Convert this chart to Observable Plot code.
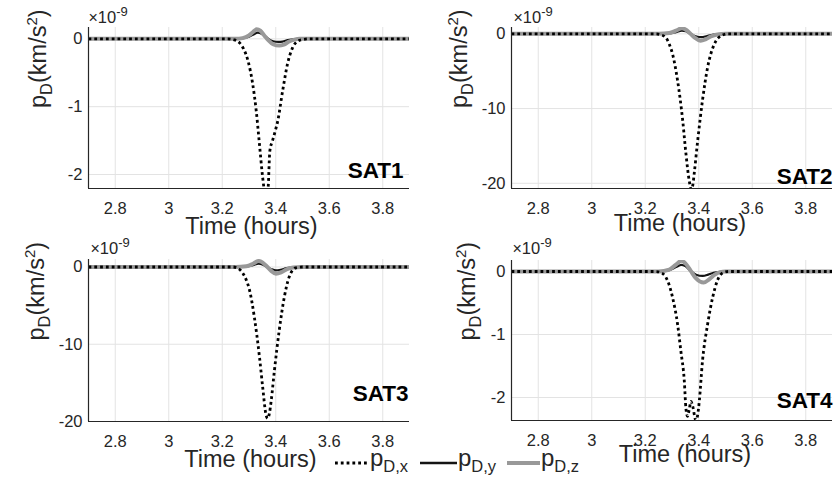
<!DOCTYPE html>
<html><head><meta charset="utf-8">
<script src="https://cdn.jsdelivr.net/npm/d3@7"></script>
<script src="https://cdn.jsdelivr.net/npm/@observablehq/plot@0.6"></script>
<style>
body{margin:0;background:#fff;}
#fig{position:relative;width:837px;height:485px;font-family:"Liberation Sans",Arial,sans-serif;overflow:hidden;background:#fff;}
.panel{position:absolute;}
</style></head><body><div id="fig"></div>
<script>
// ---- data (values in units of 1e-9 km/s^2), [time in hours, value]
const xTicks = [2.8, 3, 3.2, 3.4, 3.6, 3.8];
const xDomain = [2.7, 3.9];
const satNames = ["SAT1", "SAT2", "SAT3", "SAT4"];
const yTicksSmall = [-2, -1, 0];
const yTicksLarge = [-20, -10, 0];
const legendLabels = ["D,x", "D,y", "D,z"];

const sat1X = [[2.7,0],[3.22,0],[3.245,-0.015],[3.265,-0.06],[3.28,-0.15],[3.296,-0.32],[3.314,-0.67],[3.327,-1.06],[3.339,-1.55],[3.351,-2.04],[3.358,-2.25],[3.364,-2.32],[3.371,-2.22],[3.378,-1.65],[3.388,-1.5],[3.398,-1.36],[3.407,-1.22],[3.426,-0.76],[3.444,-0.37],[3.463,-0.13],[3.48,-0.04],[3.5,-0.01],[3.53,0],[3.9,0]];
const sat1Y = [[2.7,0],[3.25,0],[3.28,0.01],[3.30,0.03],[3.315,0.06],[3.333,0.09],[3.345,0.08],[3.36,0.04],[3.375,-0.01],[3.39,-0.035],[3.41,-0.045],[3.425,-0.04],[3.445,-0.02],[3.47,-0.005],[3.5,0],[3.9,0]];
const sat1Z = [[2.7,0],[3.25,0],[3.276,0.01],[3.30,0.05],[3.315,0.1],[3.329,0.14],[3.342,0.12],[3.357,0.05],[3.372,-0.02],[3.39,-0.08],[3.413,-0.1],[3.43,-0.085],[3.45,-0.04],[3.47,-0.012],[3.49,0],[3.9,0]];

const sat2X = [[2.7,0],[3.24,0],[3.26,-0.15],[3.277,-0.5],[3.29,-1.4],[3.302,-2.7],[3.321,-6.3],[3.34,-11.6],[3.352,-16],[3.365,-19.8],[3.372,-20.8],[3.378,-20.2],[3.383,-18.7],[3.396,-14.3],[3.414,-8.9],[3.433,-4.5],[3.458,-1.4],[3.483,-0.27],[3.51,0],[3.9,0]];
const sat2Y = [[2.7,0],[3.25,0],[3.29,0.06],[3.315,0.24],[3.337,0.44],[3.352,0.34],[3.367,0.05],[3.383,-0.25],[3.4,-0.42],[3.41,-0.44],[3.428,-0.33],[3.447,-0.15],[3.47,-0.04],[3.5,0],[3.9,0]];
const sat2Z = [[2.7,0],[3.25,0],[3.29,0.1],[3.315,0.42],[3.337,0.76],[3.352,0.55],[3.368,0.05],[3.385,-0.5],[3.407,-0.93],[3.425,-0.75],[3.445,-0.35],[3.47,-0.08],[3.5,0],[3.9,0]];

const sat3X = [[2.7,0],[3.24,0],[3.26,-0.2],[3.277,-0.8],[3.29,-1.7],[3.302,-3],[3.32,-6.5],[3.339,-11.6],[3.351,-15.5],[3.364,-19.2],[3.37,-19.6],[3.376,-19],[3.383,-17.3],[3.395,-13.4],[3.413,-8.2],[3.432,-3.9],[3.45,-1.3],[3.475,-0.1],[3.5,0],[3.9,0]];
const sat3Y = [[2.7,0],[3.25,0],[3.29,0.06],[3.315,0.24],[3.336,0.43],[3.35,0.33],[3.365,0.05],[3.382,-0.27],[3.4,-0.43],[3.418,-0.36],[3.44,-0.15],[3.465,-0.03],[3.5,0],[3.9,0]];
const sat3Z = [[2.7,0],[3.25,0],[3.29,0.1],[3.315,0.42],[3.336,0.78],[3.35,0.6],[3.366,0.1],[3.383,-0.5],[3.401,-0.87],[3.42,-0.7],[3.44,-0.3],[3.465,-0.06],[3.5,0],[3.9,0]];

const sat4X = [[2.7,0],[3.24,0],[3.26,-0.02],[3.277,-0.09],[3.29,-0.22],[3.302,-0.41],[3.321,-0.84],[3.333,-1.26],[3.346,-1.74],[3.352,-2.17],[3.358,-2.3],[3.364,-2.2],[3.371,-2.06],[3.378,-2.15],[3.389,-2.36],[3.395,-2.3],[3.402,-2.06],[3.414,-1.42],[3.433,-0.84],[3.452,-0.41],[3.47,-0.14],[3.49,-0.02],[3.51,0],[3.9,0]];
const sat4Y = [[2.7,0],[3.25,0],[3.29,0.02],[3.315,0.07],[3.335,0.107],[3.35,0.085],[3.37,0.01],[3.39,-0.05],[3.415,-0.07],[3.435,-0.05],[3.455,-0.02],[3.48,-0.004],[3.5,0],[3.9,0]];
const sat4Z = [[2.7,0],[3.25,0],[3.29,0.03],[3.315,0.11],[3.335,0.17],[3.35,0.13],[3.37,0.01],[3.39,-0.11],[3.418,-0.176],[3.44,-0.12],[3.46,-0.05],[3.48,-0.01],[3.5,0],[3.9,0]];

const yDomains = [[-2.206, 0.167], [-20.7, 0.85], [-20, 0.97], [-2.365, 0.175]];

// ---- layout (styles only)
const GRAY = "#999999", INK = "#262626", GRID = "#e3e3e3";
const FONT = "'Liberation Sans', Arial, sans-serif";
const DASH = "2.8,3";
const panels = [
  {name: satNames[0], x: sat1X, y: sat1Y, z: sat1Z, dom: yDomains[0], ticks: yTicksSmall,
   left: 0, top: 0, w: 418, h: 245, ml: 88, mr: 9, mt: 27, mb: 57,
   satDx: -6, satDy: -18, xlDx: 2.5, xlDy: 37.5, ylDx: -50, expDx: 0, expDy: -9.5},
  {name: satNames[1], x: sat2X, y: sat2Y, z: sat2Z, dom: yDomains[1], ticks: yTicksLarge,
   left: 418, top: 0, w: 419, h: 245, ml: 93, mr: 5, mt: 27, mb: 57,
   satDx: 0, satDy: -12, xlDx: 8, xlDy: 34.5, ylDx: -52.5, expDx: 2, expDy: -9.5},
  {name: satNames[2], x: sat3X, y: sat3Y, z: sat3Z, dom: yDomains[2], ticks: yTicksLarge,
   left: 0, top: 225, w: 418, h: 260, ml: 88, mr: 9, mt: 34, mb: 64,
   satDx: -1, satDy: -28, xlDx: 1.5, xlDy: 38, ylDx: -52.5, expDx: 2, expDy: -11},
  {name: satNames[3], x: sat4X, y: sat4Y, z: sat4Z, dom: yDomains[3], ticks: yTicksSmall,
   left: 418, top: 225, w: 419, h: 260, ml: 93, mr: 5, mt: 35, mb: 65,
   satDx: 0, satDy: -20, xlDx: 13, xlDy: 34, ylDx: -44, expDx: 1, expDy: -12}
];

const Y_LABEL = "p_D(km/s^2)";
const EXP_LABEL = "x10^-9";

function rich(svg, placeholder, parts) {
  d3.select(svg).selectAll("text").filter(function() { return this.textContent === placeholder; })
    .each(function() {
      const t = d3.select(this);
      t.text(null);
      parts.forEach(p => {
        const s = t.append("tspan").text(p.t);
        if (p.size) s.attr("font-size", p.size);
        if (p.dy) s.attr("dy", p.dy);
      });
    });
}

const fig = document.getElementById("fig");
const fx = d => d[0], fy = d => d[1];

panels.forEach(p => {
  const svg = Plot.plot({
    width: p.w, height: p.h,
    marginLeft: p.ml, marginRight: p.mr, marginTop: p.mt, marginBottom: p.mb,
    style: {background: "transparent", fontFamily: FONT, fontSize: "16.5px", color: INK, overflow: "visible"},
    x: {domain: xDomain, ticks: xTicks, tickFormat: d => String(d), tickSize: 0, tickPadding: 14, label: null},
    y: {domain: p.dom, ticks: p.ticks, tickFormat: d => String(d), tickSize: 0, tickPadding: 6, label: null},
    marks: [
      Plot.ruleX(xTicks, {stroke: GRID, strokeWidth: 1}),
      Plot.ruleY(p.ticks, {stroke: GRID, strokeWidth: 1}),
      Plot.line(p.y, {x: fx, y: fy, stroke: "#141414", strokeWidth: 2.2, curve: "monotone-x", clip: true}),
      Plot.line(p.z, {x: fx, y: fy, stroke: GRAY, strokeWidth: 4, curve: "monotone-x", clip: true}),
      Plot.line(p.x, {x: fx, y: fy, stroke: "#000", strokeWidth: 2.8, strokeDasharray: DASH, strokeLinecap: "butt", curve: "monotone-x", clip: true}),
      Plot.ruleX([xDomain[0]], {stroke: INK, strokeWidth: 1.2}),
      Plot.ruleY([p.dom[0]], {stroke: INK, strokeWidth: 1.2}),
      Plot.text([p.name], {text: d => d, frameAnchor: "bottom-right", textAnchor: "end", lineAnchor: "middle", dx: p.satDx, dy: p.satDy,
        fontSize: 22.5, fontWeight: "bold", fill: "#000"}),
      Plot.text(["Time (hours)"], {text: d => d, frameAnchor: "bottom", lineAnchor: "middle", dx: p.xlDx, dy: p.xlDy, fontSize: 23.5, fill: INK}),
      Plot.text([Y_LABEL], {text: d => d, frameAnchor: "left", lineAnchor: "middle", rotate: -90, dx: p.ylDx, fontSize: 23.5, fill: INK}),
      Plot.text([EXP_LABEL], {text: d => d, frameAnchor: "top-left", textAnchor: "start", lineAnchor: "middle", dx: p.expDx, dy: p.expDy, fontSize: 16.5, fill: INK})
    ]
  });
  rich(svg, Y_LABEL, [{t: "p"}, {t: "D", size: 16.5, dy: 6}, {t: "(km/s", dy: -6}, {t: "2", size: 15, dy: -9}, {t: ")", dy: 9}]);
  rich(svg, EXP_LABEL, [{t: "\u00d7", size: 16}, {t: "10"}, {t: "-9", size: 13, dy: -7}]);
  const div = document.createElement("div");
  div.className = "panel";
  div.style.left = p.left + "px";
  div.style.top = p.top + "px";
  div.appendChild(svg);
  fig.appendChild(div);
});

// ---- legend
const leg = d3.select(fig).append("svg")
  .attr("width", 280).attr("height", 40)
  .style("position", "absolute").style("left", "330px").style("top", "445px")
  .style("font-family", FONT).style("overflow", "visible");
const legItems = [
  {x0: 5, x1: 38, tx: 40, stroke: "#000", w: 2.8, dash: DASH},
  {x0: 90, x1: 127, tx: 128, stroke: "#141414", w: 2.6, dash: null},
  {x0: 177, x1: 210, tx: 211, stroke: GRAY, w: 4, dash: null}
];
legItems.forEach((it, i) => {
  const l = leg.append("line").attr("x1", it.x0).attr("x2", it.x1).attr("y1", 18).attr("y2", 18)
    .attr("stroke", it.stroke).attr("stroke-width", it.w);
  if (it.dash) l.attr("stroke-dasharray", it.dash);
  const t = leg.append("text").attr("x", it.tx).attr("y", 21).attr("font-size", 24).attr("fill", INK);
  t.append("tspan").text("p");
  t.append("tspan").attr("font-size", 16.5).attr("dy", 6).text(legendLabels[i]);
});
</script></body></html>
